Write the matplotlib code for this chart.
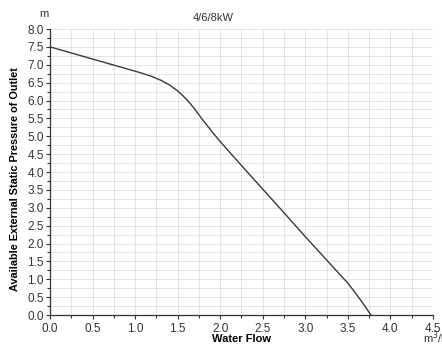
import matplotlib

matplotlib.use("Agg")
import matplotlib.pyplot as plt
from matplotlib.ticker import MultipleLocator

# pump curve (water flow m3/h -> pressure m)
FLOW = [0.0, 0.5, 1.0, 1.1, 1.2, 1.3, 1.4, 1.5, 1.55, 1.6, 1.65, 1.7, 1.75, 1.8,
        1.9, 2.0, 2.25, 2.5, 2.75, 3.0, 3.25, 3.5, 3.6, 3.7, 3.77]
PRESSURE = [7.5, 7.16, 6.82, 6.75, 6.67, 6.57, 6.44, 6.27, 6.16, 6.04, 5.91, 5.76,
            5.6, 5.44, 5.14, 4.85, 4.18, 3.52, 2.86, 2.19, 1.54, 0.89, 0.58, 0.25, 0.0]
TITLE = "4/6/8kW"
XLABEL = "Water Flow"
YLABEL = "Available External Static Pressure of Outlet"

INK = "#333333"
GRID = "#e4e4e4"

plt.rcParams.update({
    "font.family": ["Liberation Sans", "DejaVu Sans"],
    "font.size": 8.5,
    "text.color": INK,
    "xtick.color": INK,
    "ytick.color": INK,
})

fig = plt.figure(figsize=(4.42, 3.47), dpi=100)
ax = fig.add_axes([0.1131, 0.0922, 0.8665, 0.8242])

ax.plot(FLOW, PRESSURE, color="#3a3a3a", lw=1.0, solid_capstyle="round")

ax.set_xlim(0, 4.5)
ax.set_ylim(0, 8.0)
ax.xaxis.set_major_locator(MultipleLocator(0.5))
ax.xaxis.set_minor_locator(MultipleLocator(0.25))
ax.yaxis.set_major_locator(MultipleLocator(0.5))
ax.yaxis.set_minor_locator(MultipleLocator(0.25))
ax.xaxis.set_major_formatter(lambda v, p: f"{v:.1f}")
ax.yaxis.set_major_formatter(lambda v, p: f"{v:.1f}")
ax.grid(which="both", color=GRID, lw=0.7)
ax.set_axisbelow(True)

for s in ("top", "right"):
    ax.spines[s].set_visible(False)
for s in ("left", "bottom"):
    ax.spines[s].set_color(INK)
    ax.spines[s].set_linewidth(0.9)
ax.tick_params(which="major", length=3, width=0.8, labelsize=8.5)
ax.tick_params(axis="x", which="major", pad=2.5)
ax.tick_params(axis="y", which="major", pad=1.5)
ax.tick_params(which="minor", length=2.5, width=0.8)

ax.set_xlabel(XLABEL, fontweight="bold", fontsize=8, va="center")
ax.xaxis.set_label_coords(0.5, -0.085)
ax.set_ylabel(YLABEL, fontweight="bold", fontsize=7.8, va="center")
ax.yaxis.set_label_coords(-0.092, 0.475)
ax.set_title(TITLE, fontsize=8, pad=6, x=0.426)

# unit labels
fig.text(44 / 442, 1 - 14 / 347, "m", fontsize=8, ha="center", va="center")
fig.text(423 / 442, 1 - 338 / 347, "m$^3$/h", fontsize=8, ha="left", va="center")

fig.savefig("out.png", dpi=100)
